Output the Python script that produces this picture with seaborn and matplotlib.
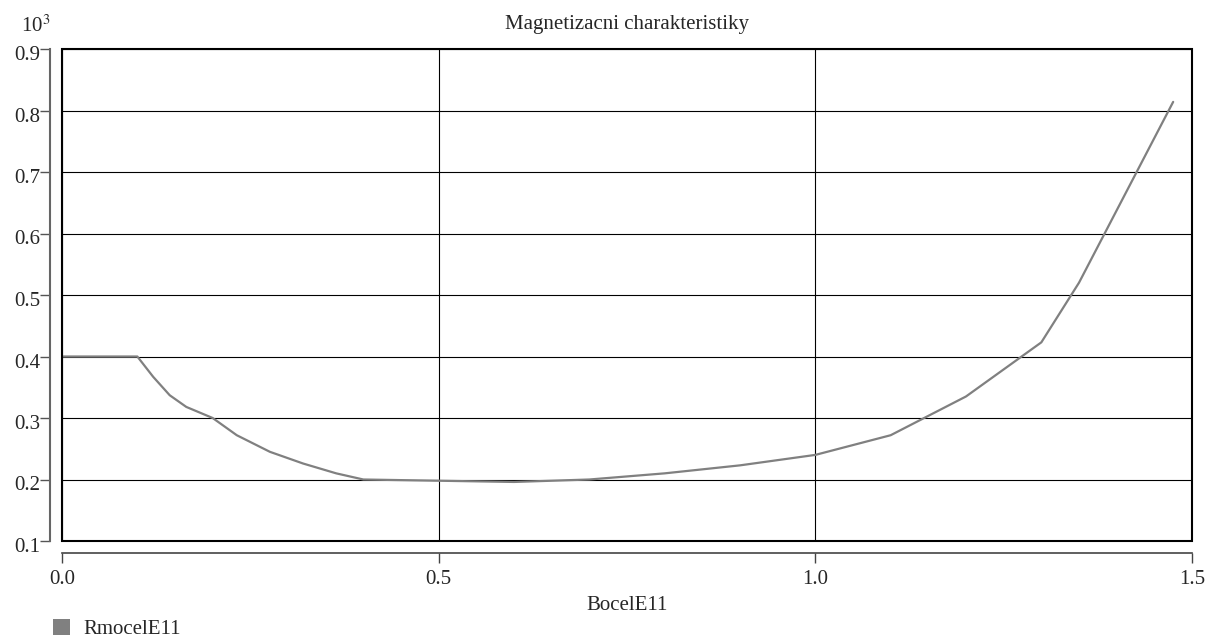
import matplotlib
matplotlib.use("Agg")
import matplotlib.pyplot as plt
import matplotlib.patches as mpatches
import matplotlib.transforms as mtransforms
from matplotlib.ticker import FuncFormatter
import seaborn as sns
import pandas as pd

# ---- data ----
bocel = [0.0, 0.1, 0.121, 0.143, 0.165, 0.2, 0.232, 0.276, 0.32, 0.364, 0.4,
         0.5, 0.6, 0.7, 0.8, 0.9, 1.0, 1.1, 1.2, 1.3, 1.35, 1.475]
rmocel = [400, 400, 367, 337, 318, 300, 272, 245, 226, 210, 200,
          198, 196, 200, 210, 223, 240, 272, 335, 423, 520, 814]
x_ticks = [0.0, 0.5, 1.0, 1.5]
y_ticks = [100, 200, 300, 400, 500, 600, 700, 800, 900]
title = "Magnetizacni charakteristiky"
x_label = "BocelE11"
series_name = "RmocelE11"

FS = 15

sns.set_style("white")
plt.rcParams['font.family'] = ['Liberation Serif', 'DejaVu Serif']
plt.rcParams['mathtext.fontset'] = 'stix'

fig = plt.figure(figsize=(12.18, 6.44), dpi=100)
ax = fig.add_axes([62 / 1218, 1 - 541 / 644, 1130 / 1218, 492 / 644])

df = pd.DataFrame({"B": bocel, "R": rmocel})
sns.lineplot(data=df, x="B", y="R", ax=ax, color="#808080", linewidth=1.6,
             estimator=None, sort=False, zorder=3)

ax.set_xlim(0, 1.5)
ax.set_ylim(100, 900)
ax.set_xticks(x_ticks)
ax.set_yticks(y_ticks)
ax.xaxis.set_major_formatter(FuncFormatter(lambda v, p: f"{v:.1f}"))
ax.yaxis.set_major_formatter(FuncFormatter(lambda v, p: f"{v/1000:.1f}"))
ax.grid(True, color="black", linewidth=0.8)
ax.set_axisbelow(True)

# separate, offset axis spines
for s in ("top", "right"):
    ax.spines[s].set_visible(False)
ax.spines["left"].set_position(("outward", 8.6))
ax.spines["bottom"].set_position(("outward", 8.6))
ax.spines["left"].set_color("#666666")
ax.spines["bottom"].set_color("#444444")
ax.spines["left"].set_linewidth(1.5)
ax.spines["bottom"].set_linewidth(1.2)
ax.tick_params(axis="y", direction="out", length=7, width=1.0, color="#555555",
               labelsize=FS, pad=0, left=True)
ax.tick_params(axis="x", direction="out", length=7.5, width=1.0, color="#444444",
               labelsize=FS, pad=5, bottom=True)

# y tick labels sit slightly below their ticks in the reference
shift = mtransforms.ScaledTranslation(0, -4 / 100, fig.dpi_scale_trans)
for lbl in ax.get_yticklabels():
    lbl.set_transform(lbl.get_transform() + shift)

# plot frame
ax.add_patch(mpatches.Rectangle((0, 0), 1, 1, transform=ax.transAxes, fill=False,
                                edgecolor="black", linewidth=1.5, zorder=4, clip_on=False))

ax.set_xlabel(x_label, fontsize=FS, labelpad=5)
ax.set_ylabel("")
fig.text(627 / 1218, 1 - 24 / 644, title, ha="center", va="center", fontsize=FS)
fig.text(21 / 1218, 1 - 26 / 644, r"10$^3$", ha="left", va="center", fontsize=FS)

# legend
fig.patches.append(mpatches.Rectangle((53 / 1218, 1 - 635 / 644), 17 / 1218, 16 / 644,
                                      transform=fig.transFigure, facecolor="#808080",
                                      edgecolor="none"))
fig.text(83 / 1218, 1 - 629 / 644, series_name, ha="left", va="center", fontsize=FS)

fig.savefig("out.png", dpi=100)
